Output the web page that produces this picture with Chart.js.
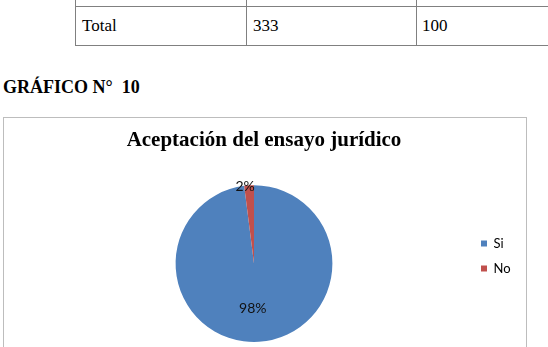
<!DOCTYPE html>
<html>
<head>
<meta charset="utf-8">
<script src="https://cdn.jsdelivr.net/npm/chart.js@4.4.1/dist/chart.umd.min.js"></script>
<style>
html,body{margin:0;padding:0;background:#fff;width:548px;height:347px;overflow:hidden;position:relative;}
.t{position:absolute;font-family:"Liberation Serif","Times New Roman",serif;color:#000;white-space:pre;}
.hl{position:absolute;height:1px;background:#808080;}
.vl{position:absolute;width:1px;background:#808080;}
#box{position:absolute;left:3px;top:117px;width:522px;height:260px;border:1px solid #bdbdbd;}
#c{position:absolute;left:4px;top:118px;}
</style>
</head>
<body>
<div class="vl" style="left:75px;top:0;height:46px"></div>
<div class="vl" style="left:246px;top:0;height:46px"></div>
<div class="vl" style="left:416px;top:0;height:46px"></div>
<div class="hl" style="left:75px;top:6px;width:473px"></div>
<div class="hl" style="left:75px;top:45px;width:473px"></div>
<div class="t" style="left:82px;top:17px;font-size:17px;line-height:17px">Total</div>
<div class="t" style="left:253px;top:17px;font-size:17px;line-height:17px">333</div>
<div class="t" style="left:422px;top:17px;font-size:17px;line-height:17px">100</div>
<div class="t" style="left:3px;top:78px;font-size:18px;line-height:18px;font-weight:bold">GRÁFICO N°  10</div>
<div id="box"></div>
<canvas id="c" width="520" height="229"></canvas>
<script>
const chartTitle = "Aceptación del ensayo jurídico";
const categories = ["Si", "No"];
const percentValues = [98, 2];
const sliceColors = ["#4F81BD", "#C0504D"];

// widen / shift the (narrow) legend box after layout so its text is not clipped
const legendPlace = {
  id: 'legendPlace',
  afterLayout(chart) {
    const lg = chart.legend;
    if (!lg) return;
    lg.right = lg.left + 60;
    lg.width = 60;
    lg.top += 26;
    lg.bottom += 26;
  }
};

const pctLabels = {
  id: 'pctLabels',
  afterDatasetsDraw(chart) {
    const ctx = chart.ctx;
    const meta = chart.getDatasetMeta(0);
    const data = chart.data.datasets[0].data;
    const total = data.reduce((a, b) => a + b, 0);
    ctx.save();
    ctx.font = '14px Lato, "Open Sans", sans-serif';
    ctx.fillStyle = '#111';
    ctx.textAlign = 'center';
    ctx.textBaseline = 'middle';
    meta.data.forEach((arc, i) => {
      const p = arc.getProps(['x', 'y', 'startAngle', 'endAngle', 'outerRadius'], true);
      const mid = (p.startAngle + p.endAngle) / 2;
      const frac = data[i] / total;
      const d = frac > 0.1 ? p.outerRadius * 0.57 : p.outerRadius * 0.99;
      const x = p.x + Math.cos(mid) * d - 4;
      const y = p.y + Math.sin(mid) * d;
      ctx.fillText(Math.round(frac * 100) + '%', x, y);
    });
    ctx.restore();
  }
};

new Chart(document.getElementById('c'), {
  type: 'pie',
  data: {
    labels: categories,
    datasets: [{
      data: percentValues,
      backgroundColor: sliceColors,
      borderWidth: 0
    }]
  },
  options: {
    responsive: false,
    animation: false,
    devicePixelRatio: 1,
    layout: { padding: { left: 35, right: 35, top: 0, bottom: 5 } },
    plugins: {
      title: {
        display: true,
        text: chartTitle,
        color: '#000',
        font: { family: '"Liberation Serif", "Times New Roman", serif', size: 21, weight: 'bold' },
        padding: { top: 10, bottom: 32 }
      },
      legend: {
        position: 'right',
        maxWidth: 20,
        labels: {
          boxWidth: 6,
          boxHeight: 6,
          padding: 12,
          color: '#000',
          font: { family: 'Lato, "Open Sans", sans-serif', size: 13 }
        }
      },
      tooltip: { enabled: false }
    }
  },
  plugins: [legendPlace, pctLabels]
});
</script>
</body>
</html>
